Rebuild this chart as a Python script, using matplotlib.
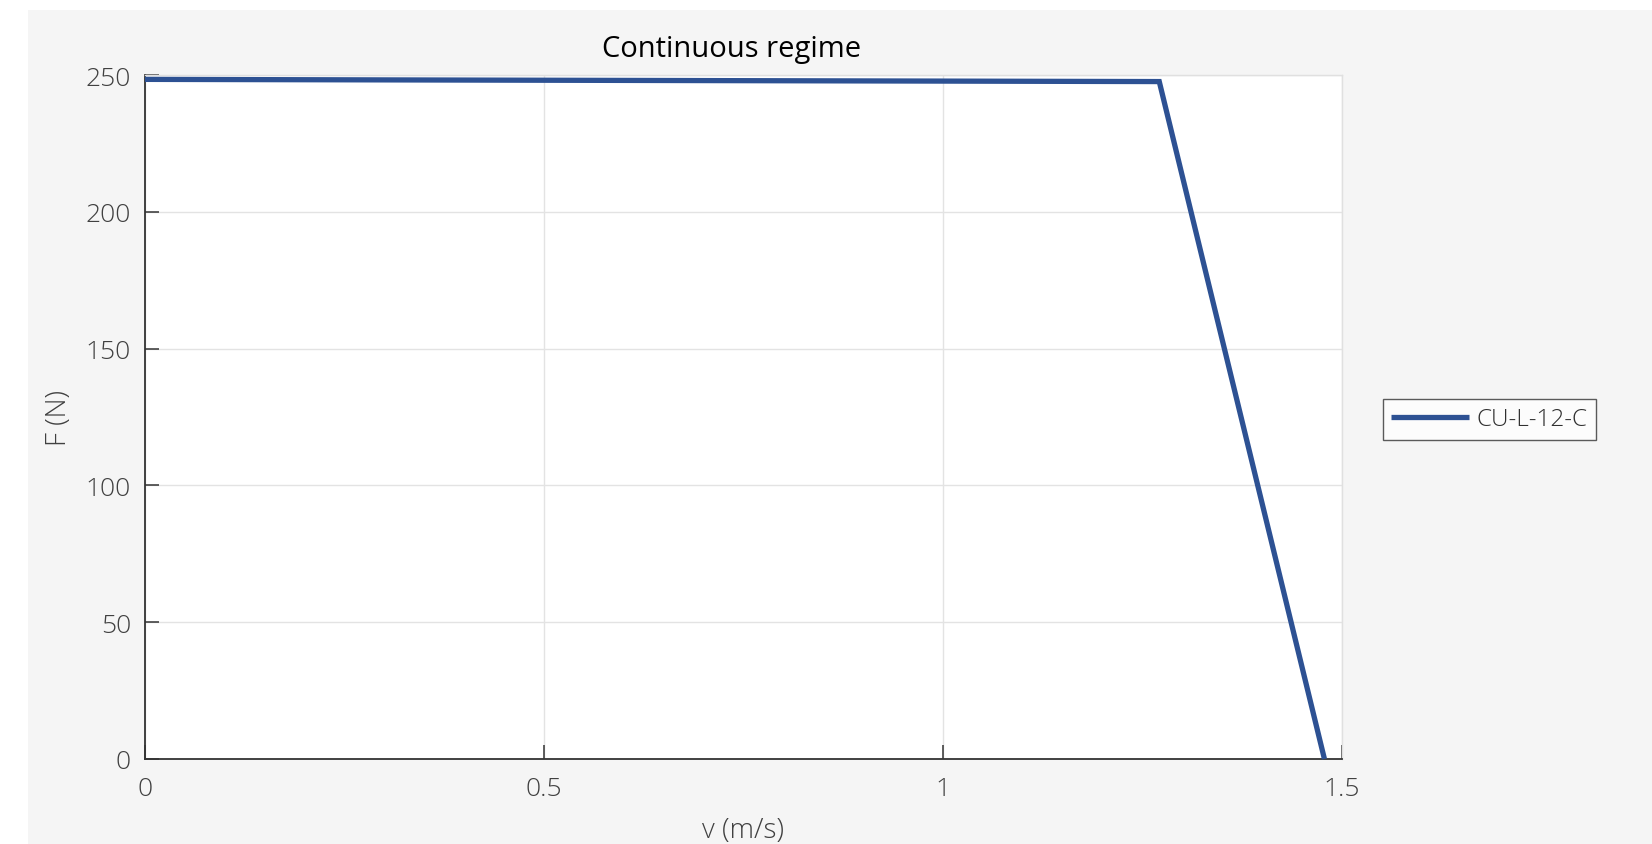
import matplotlib
matplotlib.use("Agg")
import matplotlib.pyplot as plt
from matplotlib.patches import Rectangle

plt.rcParams['font.family'] = ['Open Sans', 'DejaVu Sans']

# Data
v = [0.0, 1.271, 1.478]
F = [248.4, 247.6, 0.0]
series_name = "CU-L-12-C"
title = "Continuous regime"
xlabel = "v (m/s)"
ylabel = "F (N)"
xticks = [0, 0.5, 1, 1.5]
xticklabels = ["0", "0.5", "1", "1.5"]
yticks = [0, 50, 100, 150, 200, 250]

W, H = 1652, 845
fig = plt.figure(figsize=(W / 100, H / 100), dpi=100)
fig.patch.set_facecolor('white')
bg = Rectangle((28 / W, 0), 1 - 28 / W, 1 - 11 / H,
               transform=fig.transFigure, facecolor='#f5f5f5',
               edgecolor='none', zorder=-10)
fig.add_artist(bg)

L, R, T, B = 145, 1342, 76, 760
ax = fig.add_axes([L / W, 1 - B / H, (R - L) / W, (B - T) / H])
ax.set_zorder(1)
ax.set_facecolor('white')

ax.plot(v, F, color='#2d5193', linewidth=3.8, label=series_name,
        solid_joinstyle='miter', solid_capstyle='butt', clip_on=False, zorder=3)

ax.set_xlim(0, 1.5)
ax.set_ylim(0, 250)
ax.set_xticks(xticks)
ax.set_xticklabels(xticklabels)
ax.set_yticks(yticks)
ax.grid(True, color='#e3e3e3', linewidth=1.0)
ax.set_axisbelow(True)

for s in ['left', 'bottom']:
    ax.spines[s].set_color('#333333')
    ax.spines[s].set_linewidth(1.3)
for s in ['top', 'right']:
    ax.spines[s].set_color('#e0e0e0')
    ax.spines[s].set_linewidth(1.0)

ax.tick_params(axis='both', direction='in', length=10, width=1.1,
               color='#333333', labelcolor='#404040', labelsize=19)
ax.tick_params(axis='x', pad=12)
ax.tick_params(axis='y', pad=10)
for lab in ax.get_xticklabels() + ax.get_yticklabels():
    lab.set_fontweight('light')

ax.set_title(title, fontsize=21, color='black', pad=14, x=0.49)
ax.set_xlabel(xlabel, fontsize=20, color='#404040', fontweight='light', labelpad=11)
ax.set_ylabel(ylabel, fontsize=20, color='#404040', fontweight='light', labelpad=9)

leg = ax.legend(loc='center left', bbox_to_anchor=(1.034, 0.497),
                frameon=True, fancybox=False, fontsize=17.5, handlelength=3.2,
                handletextpad=0.3, borderpad=0.35, borderaxespad=0)
leg.get_frame().set_edgecolor('#333333')
leg.get_frame().set_linewidth(1.0)
leg.get_frame().set_facecolor('white')
for t in leg.get_texts():
    t.set_color('#303030')
    t.set_fontweight('light')

fig.savefig('out.png', dpi=100, facecolor=fig.get_facecolor())
